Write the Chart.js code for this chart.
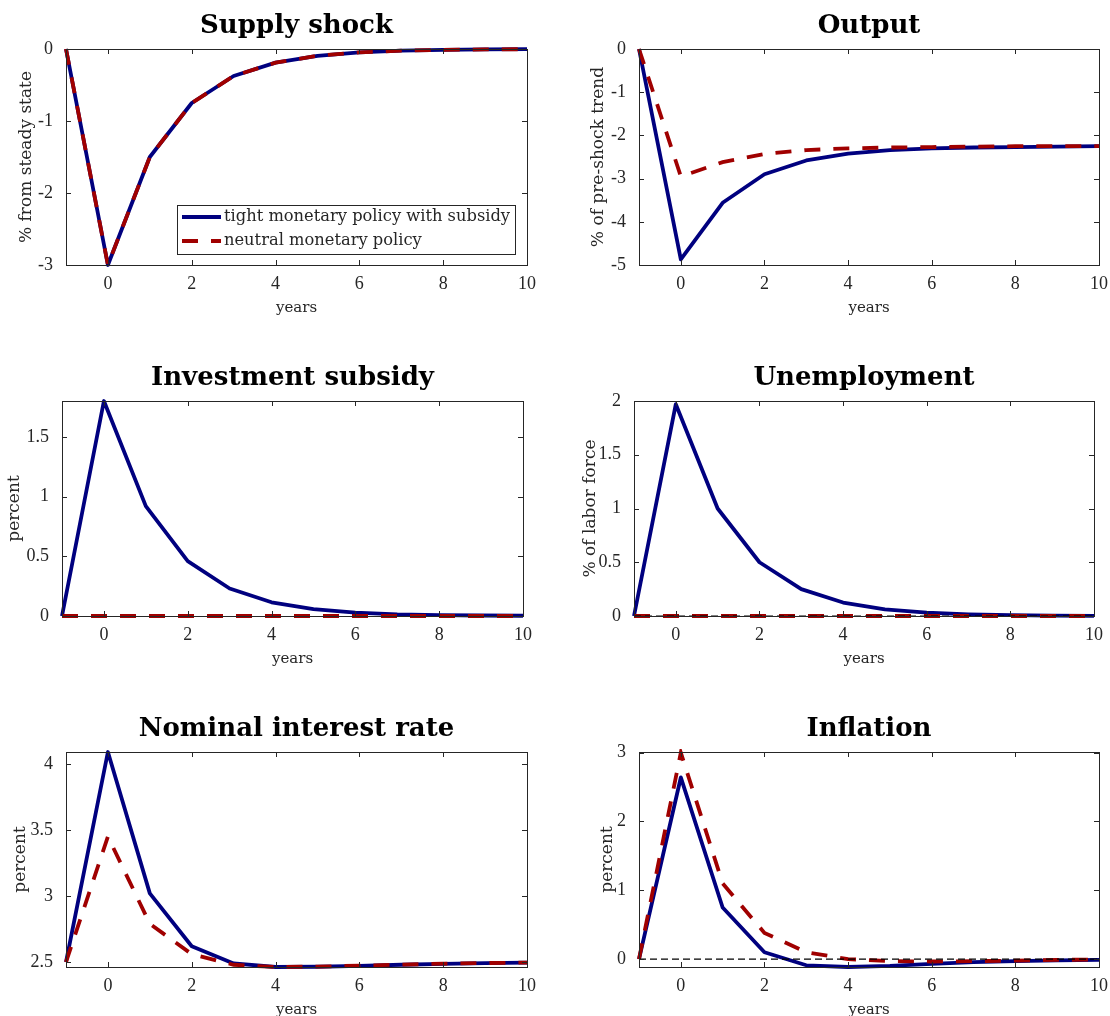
<!DOCTYPE html>
<html>
<head>
<meta charset="utf-8">
<script src="https://cdn.jsdelivr.net/npm/chart.js@4.4.1/dist/chart.umd.min.js"></script>
<style>
  html, body { margin: 0; padding: 0; background: #fff; }
  body { width: 1110px; height: 1016px; position: relative; overflow: hidden; }
  .panel { position: absolute; }
</style>
</head>
<body>
<div id="p1" class="panel"><canvas></canvas></div>
<div id="p2" class="panel"><canvas></canvas></div>
<div id="p3" class="panel"><canvas></canvas></div>
<div id="p4" class="panel"><canvas></canvas></div>
<div id="p5" class="panel"><canvas></canvas></div>
<div id="p6" class="panel"><canvas></canvas></div>
<script>
// x axis: years after the shock
const years = [-1, 0, 1, 2, 3, 4, 5, 6, 7, 8, 9, 10];
const xTicks = [0, 2, 4, 6, 8, 10];

// series
const supplyTight   = [0, -3.0, -1.5, -0.75, -0.375, -0.19, -0.095, -0.047, -0.023, -0.012, -0.006, -0.003];
const supplyNeutral = [0, -3.0, -1.5, -0.75, -0.375, -0.19, -0.095, -0.047, -0.023, -0.012, -0.006, -0.003];
const outputTight   = [0, -4.87, -3.56, -2.9, -2.58, -2.42, -2.34, -2.3, -2.28, -2.27, -2.26, -2.25];
const outputNeutral = [0, -2.95, -2.62, -2.43, -2.34, -2.3, -2.28, -2.27, -2.26, -2.25, -2.25, -2.25];
const subsidyTight   = [0, 1.8, 0.92, 0.46, 0.23, 0.115, 0.058, 0.029, 0.014, 0.007, 0.004, 0.002];
const subsidyNeutral = [0, 0, 0, 0, 0, 0, 0, 0, 0, 0, 0, 0];
const unempTight   = [0, 1.97, 1.0, 0.5, 0.25, 0.125, 0.062, 0.031, 0.016, 0.008, 0.004, 0.002];
const unempNeutral = [0, 0, 0, 0, 0, 0, 0, 0, 0, 0, 0, 0];
const rateTight   = [2.5, 4.09, 3.02, 2.62, 2.49, 2.463, 2.465, 2.472, 2.48, 2.487, 2.492, 2.496];
const rateNeutral = [2.5, 3.45, 2.79, 2.56, 2.48, 2.463, 2.466, 2.473, 2.481, 2.488, 2.493, 2.496];
const inflTight   = [0, 2.64, 0.75, 0.1, -0.09, -0.115, -0.1, -0.07, -0.045, -0.03, -0.018, -0.01];
const inflNeutral = [0, 3.0, 1.1, 0.38, 0.1, 0.0, -0.03, -0.035, -0.03, -0.022, -0.012, -0.005];
const zeroLine = [0, 0, 0, 0, 0, 0, 0, 0, 0, 0, 0, 0];

// y tick labels per panel
const supplyYTicks = [-3, -2, -1, 0];
const outputYTicks = [-5, -4, -3, -2, -1, 0];
const subsidyYTicks = [0, 0.5, 1, 1.5];
const unempYTicks = [0, 0.5, 1, 1.5, 2];
const rateYTicks = [2.5, 3, 3.5, 4];
const inflYTicks = [0, 1, 2, 3];

const legendLabels = ['tight monetary policy with subsidy', 'neutral monetary policy'];

const BLUE = '#00007f', RED = '#a00000', INK = '#262626';

// draws the closed box with inward ticks, like the matlab axes
const boxPlugin = {
  id: 'matBox',
  afterDatasetsDraw(chart) {
    const { ctx, chartArea: a, scales: { x, y } } = chart;
    ctx.save();
    ctx.strokeStyle = INK;
    ctx.lineWidth = 1;
    ctx.beginPath();
    x.ticks.forEach(t => {
      const px = Math.round(x.getPixelForValue(t.value)) + 0.5;
      ctx.moveTo(px, a.bottom); ctx.lineTo(px, a.bottom - 5);
      ctx.moveTo(px, a.top); ctx.lineTo(px, a.top + 5);
    });
    y.ticks.forEach(t => {
      const py = Math.round(y.getPixelForValue(t.value)) + 0.5;
      ctx.moveTo(a.left, py); ctx.lineTo(a.left + 5, py);
      ctx.moveTo(a.right, py); ctx.lineTo(a.right - 5, py);
    });
    ctx.stroke();
    ctx.strokeRect(Math.round(a.left) + 0.5, Math.round(a.top) + 0.5,
                   Math.round(a.right - a.left), Math.round(a.bottom - a.top));
    ctx.restore();
  }
};

// boxed legend in the lower right of the chart area
const boxLegend = {
  id: 'boxLegend',
  afterDraw(chart, args, opts) {
    if (!opts.show) return;
    const { ctx, chartArea: a } = chart;
    const items = chart.data.datasets.filter(d => legendLabels.includes(d.label));
    ctx.save();
    ctx.font = '16.3px "DejaVu Serif"';
    const textW = Math.max(...items.map(d => ctx.measureText(d.label).width));
    const w = Math.round(47 + textW + 5), h = 49;
    const x0 = Math.round(a.right - 12 - w), y0 = Math.round(a.bottom - 11 - h);
    ctx.fillStyle = '#fff';
    ctx.fillRect(x0, y0, w, h);
    ctx.strokeStyle = INK; ctx.lineWidth = 1;
    ctx.strokeRect(x0 + 0.5, y0 + 0.5, w, h);
    items.forEach((d, i) => {
      const cy = y0 + 12 + i * 24;
      ctx.strokeStyle = d.borderColor;
      ctx.lineWidth = d.borderWidth;
      ctx.setLineDash(d.borderDash || []);
      ctx.beginPath(); ctx.moveTo(x0 + 5, cy); ctx.lineTo(x0 + 44, cy); ctx.stroke();
      ctx.setLineDash([]);
      ctx.fillStyle = INK;
      ctx.textBaseline = 'middle';
      ctx.fillText(d.label, x0 + 47, cy);
    });
    ctx.restore();
  }
};

function tight(data) {
  return { label: legendLabels[0], data, borderColor: BLUE, borderWidth: 3.8, pointRadius: 0, tension: 0, order: 3, borderJoinStyle: 'round', clip: 3 };
}
function neutral(data) {
  return { label: legendLabels[1], data, borderColor: RED, borderWidth: 3.8, borderDash: [16, 13], pointRadius: 0, tension: 0, order: 2, clip: 3 };
}
function zero(data) {
  return { label: 'zero', data, borderColor: '#000', borderWidth: 1.2, borderDash: [7, 4], pointRadius: 0, tension: 0, order: 1, clip: 3 };
}

// plot box (left, top, right, bottom) and y-label centre, in page pixels
const panels = [
  { id: 'p1', title: 'Supply shock', yLabel: '% from steady state', box: [66, 49, 527, 265], labelX: 27,
    sets: [tight(supplyTight), neutral(supplyNeutral)], yMin: -3, yMax: 0, yTicks: supplyYTicks, legend: true },
  { id: 'p2', title: 'Output', yLabel: '% of pre-shock trend', box: [639, 49, 1099, 265], labelX: 599,
    sets: [tight(outputTight), neutral(outputNeutral)], yMin: -5, yMax: 0, yTicks: outputYTicks },
  { id: 'p3', title: 'Investment subsidy', yLabel: 'percent', box: [62, 401, 523, 616], labelX: 15,
    sets: [tight(subsidyTight), neutral(subsidyNeutral)], yMin: 0, yMax: 1.8, yTicks: subsidyYTicks },
  { id: 'p4', title: 'Unemployment', yLabel: '% of labor force', box: [634, 401, 1094, 616], labelX: 591,
    sets: [tight(unempTight), neutral(unempNeutral), zero(zeroLine)], yMin: 0, yMax: 2, yTicks: unempYTicks },
  { id: 'p5', title: 'Nominal interest rate', yLabel: 'percent', box: [66, 752, 527, 967], labelX: 21,
    sets: [tight(rateTight), neutral(rateNeutral)], yMin: 2.463, yMax: 4.09, yTicks: rateYTicks },
  { id: 'p6', title: 'Inflation', yLabel: 'percent', box: [639, 752, 1099, 967], labelX: 608,
    sets: [tight(inflTight), neutral(inflNeutral), zero(zeroLine)], yMin: -0.115, yMax: 3.01, yTicks: inflYTicks }
];

const TITLE_H = 47, XAXIS_H = 52, PAD_R = 20;

panels.forEach(p => {
  const [L, T, R, B] = p.box;
  const left = p.labelX - 10, top = T - TITLE_H;
  const el = document.getElementById(p.id);
  el.style.left = left + 'px';
  el.style.top = top + 'px';
  el.style.width = (R + PAD_R - left) + 'px';
  el.style.height = (B + XAXIS_H - top) + 'px';
  const yW = L - left;

  new Chart(el.querySelector('canvas'), {
    type: 'line',
    data: { labels: years, datasets: p.sets },
    plugins: [boxPlugin, boxLegend],
    options: {
      responsive: true,
      maintainAspectRatio: false,
      animation: false,
      layout: { padding: { left: 0, right: PAD_R, top: 0, bottom: 0 } },
      plugins: {
        legend: { display: false },
        tooltip: { enabled: false },
        boxLegend: { show: !!p.legend },
        title: {
          display: true, text: p.title, fullSize: false, color: '#000',
          font: { family: "'DejaVu Serif', serif", size: 26, weight: 'bold', lineHeight: '32px' },
          padding: { top: 8, bottom: 7 }
        }
      },
      scales: {
        x: {
          type: 'linear', min: -1, max: 10,
          grid: { display: false }, border: { display: false },
          afterBuildTicks: s => { s.ticks = xTicks.map(v => ({ value: v })); },
          afterFit: s => { s.height = XAXIS_H; },
          ticks: {
            padding: 0, color: INK, maxRotation: 0, autoSkip: false,
            font: { family: "'Liberation Serif', serif", size: 18, lineHeight: '22px' },
            callback: v => String(v)
          },
          title: {
            display: true, text: 'years', color: INK, padding: 0,
            font: { family: "'DejaVu Serif', serif", size: 15, lineHeight: '18px' }
          }
        },
        y: {
          type: 'linear', min: p.yMin, max: p.yMax,
          grid: { display: false }, border: { display: false },
          afterBuildTicks: s => { s.ticks = p.yTicks.map(v => ({ value: v })); },
          afterFit: s => { s.width = yW; },
          ticks: {
            padding: 5, color: INK, autoSkip: false,
            font: { family: "'Liberation Serif', serif", size: 18, lineHeight: '22px' },
            callback: v => String(v)
          },
          title: {
            display: true, text: p.yLabel, color: INK, padding: 0,
            font: { family: "'DejaVu Serif', serif", size: 17, lineHeight: '20px' }
          }
        }
      }
    }
  });
});
</script>
</body>
</html>
